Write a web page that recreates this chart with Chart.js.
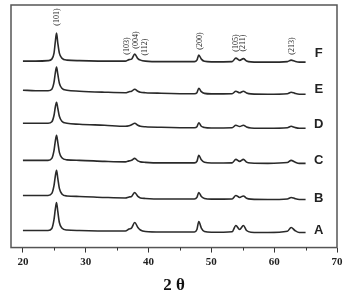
<!DOCTYPE html>
<html>
<head>
<meta charset="utf-8">
<script src="https://cdn.jsdelivr.net/npm/chart.js@4/dist/chart.umd.min.js"></script>
<style>
  html, body { margin: 0; padding: 0; background: #fff; }
  #wrap { width: 350px; height: 293px; position: relative; }
</style>
</head>
<body>
<div id="wrap"><canvas id="xrd"></canvas></div>
<script>
const twoTheta = [20, 22, 24, 24.6, 24.95, 25.15, 25.35, 25.55, 25.8, 26.2, 27, 29, 33, 36.3, 36.9, 37.3, 37.8, 38.3, 38.7, 39.5, 42,
  47.3, 47.7, 48.0, 48.4, 48.9, 50, 53.3, 53.9, 54.5, 55.1, 55.6, 56.3, 59, 62.1, 62.7, 63.3, 64, 65];

// intensity above each trace's own baseline
const sampleF = [1, 1, 1.5, 3, 9, 20, 29, 19, 9, 4, 2, 1.5, 1, 1, 2.5, 3, 8, 3.5, 2, 1, 0.5,
  0.5, 2, 7, 3, 0.8, 0.3, 0.5, 4, 1.8, 3.5, 1.2, 0.3, 0, 0.5, 2, 0.8, 0, 0];
const sampleE = [4, 3.5, 3.5, 5, 12, 21, 27, 20, 11, 6, 4, 3, 2, 1.5, 2.5, 3, 5, 3, 2, 1.5, 1,
  0.5, 1.5, 6, 2.5, 0.8, 0.3, 0.5, 3, 1.5, 3, 1.2, 0.3, 0, 0.5, 2, 0.8, 0, 0];
const sampleD = [5, 5, 5, 6.5, 13, 21, 26, 20, 12, 7, 5, 4, 3, 2, 2.5, 3.5, 5, 3, 2, 1.5, 1,
  0.5, 1.5, 5.5, 2, 0.8, 0.3, 0.5, 3, 1.8, 3, 1.2, 0.3, 0, 0.5, 2, 0.8, 0, 0];
const sampleC = [3, 3, 3, 5, 13, 22, 28, 21, 11, 5.5, 3.5, 3, 2, 1.5, 2.5, 3, 5, 2.5, 1.5, 1, 0.5,
  0.5, 2, 8, 3.5, 1, 0.3, 0.5, 4, 2, 4, 1.2, 0.3, 0, 0.8, 3, 1.3, 0, 0];
const sampleB = [4, 4, 4, 6, 14, 23, 29, 21, 11, 5.5, 3.5, 3, 2, 1.5, 2.5, 3, 7, 3, 1.5, 1, 0.5,
  0.5, 2, 7, 3, 1, 0.3, 0.5, 4, 2, 3.5, 1.2, 0.3, 0, 0.5, 2, 0.8, 0, 0];
const sampleA = [2, 2, 2, 4, 13, 23, 30, 21, 10, 4.5, 2.5, 2, 1.5, 1.5, 3.5, 4.5, 10, 5, 2.5, 1, 0.5,
  0.5, 3, 11, 4.5, 1, 0.3, 0.8, 7, 3, 7, 2, 0.3, 0, 1.2, 5, 2, 0, 0];

const sampleNames = ['A', 'B', 'C', 'D', 'E', 'F'];
const sampleOffsets = [15, 48, 84, 119, 153, 185];
const sampleLabelY = [17, 49, 87, 123, 158, 194];

const hklLabels = ['(101)', '(103)', '(004)', '(112)', '(200)', '(105)', '(211)', '(213)'];
const hklTheta = [25.4, 36.6, 38.0, 39.4, 48.2, 53.9, 55.0, 62.8];
const hklY = [230, 201, 207, 200, 206, 204, 204, 201];

const xTicks = [20, 30, 40, 50, 60, 70];

const allSamples = [sampleA, sampleB, sampleC, sampleD, sampleE, sampleF];

const datasets = allSamples.map((vals, i) => ({
  label: sampleNames[i],
  data: vals.map((v, j) => ({ x: twoTheta[j], y: sampleOffsets[i] + v })),
  borderColor: '#2a2a2a',
  borderWidth: 1.6,
  pointRadius: 0,
  cubicInterpolationMode: 'monotone',
  fill: false
}));

// frame, minor ticks and text labels
const decorations = {
  id: 'decorations',
  afterDraw(chart) {
    const ctx = chart.ctx;
    const area = chart.chartArea;
    const xs = chart.scales.x;
    const ys = chart.scales.y;
    ctx.save();
    ctx.strokeStyle = '#555';
    ctx.lineWidth = 1.5;
    ctx.strokeRect(area.left, area.top, area.right - area.left, area.bottom - area.top);

    ctx.strokeStyle = '#333';
    ctx.lineWidth = 1;
    [25, 35, 45, 55, 65].forEach(v => {
      const px = Math.round(xs.getPixelForValue(v)) + 0.5;
      ctx.beginPath();
      ctx.moveTo(px, area.bottom);
      ctx.lineTo(px, area.bottom + 3);
      ctx.stroke();
    });

    ctx.fillStyle = '#222';
    ctx.font = '8px "Liberation Serif", serif';
    ctx.textAlign = 'center';
    ctx.textBaseline = 'middle';
    hklLabels.forEach((t, i) => {
      ctx.save();
      ctx.translate(xs.getPixelForValue(hklTheta[i]), ys.getPixelForValue(hklY[i]));
      ctx.rotate(-Math.PI / 2);
      ctx.fillText(t, 0, 0);
      ctx.restore();
    });

    ctx.font = 'bold 13px "Liberation Sans", Arial, sans-serif';
    sampleNames.forEach((n, i) => {
      ctx.fillText(n, xs.getPixelForValue(67.1), ys.getPixelForValue(sampleLabelY[i]));
    });
    ctx.restore();
  }
};

new Chart(document.getElementById('xrd'), {
  type: 'line',
  data: { datasets: datasets },
  options: {
    responsive: true,
    maintainAspectRatio: false,
    animation: false,
    layout: { padding: { left: 11, right: 13, top: 5, bottom: 0 } },
    plugins: { legend: { display: false }, tooltip: { enabled: false } },
    scales: {
      x: {
        type: 'linear',
        min: 18.1,
        max: 70,
        afterBuildTicks: (scale) => {
          scale.ticks = xTicks.map(v => ({ value: v }));
        },
        grid: { drawOnChartArea: false, tickLength: 5, tickColor: '#333', lineWidth: 1 },
        border: { display: false },
        ticks: {
          padding: 4,
          color: '#222',
          maxRotation: 0,
          font: { family: '"Liberation Serif", serif', size: 11, weight: 'bold', lineHeight: 1 }
        },
        title: {
          display: true,
          text: '2 θ',
          color: '#111',
          padding: { top: 7, bottom: 0 },
          font: { family: '"Liberation Serif", serif', size: 17, weight: 'bold', lineHeight: 0.85 }
        }
      },
      y: { display: false, min: 0, max: 242 }
    }
  },
  plugins: [decorations]
});
</script>
</body>
</html>
